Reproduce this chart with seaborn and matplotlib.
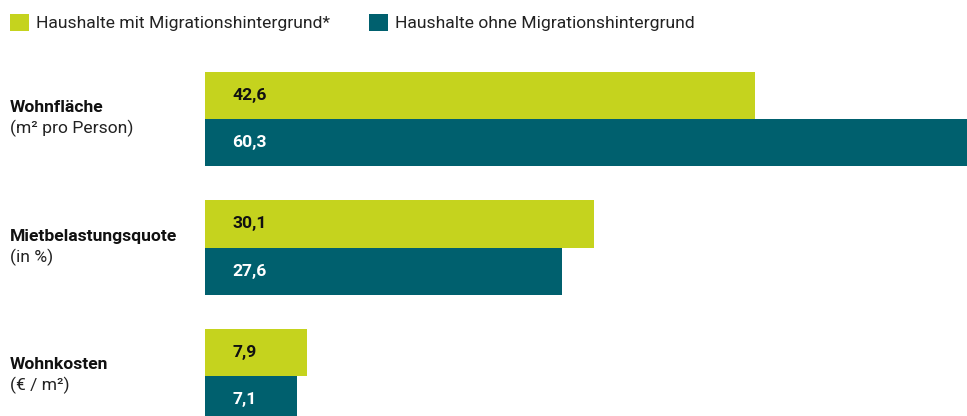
import pandas as pd
import matplotlib.pyplot as plt
import seaborn as sns

# ── Data ──────────────────────────────────────────────────────────────────────
categories = ["Wohnfläche", "Mietbelastungsquote", "Wohnkosten"]
units = ["(m² pro Person)", "(in %)", "(€ / m²)"]
groups = ["Haushalte mit Migrationshintergrund*", "Haushalte ohne Migrationshintergrund"]
with_migration = [42.6, 30.1, 7.9]
without_migration = [60.3, 27.6, 7.1]

LIME = "#C5D31E"
TEAL = "#00606E"
FS = 12.6

df = pd.DataFrame({
    "category": categories * 2,
    "value": with_migration + without_migration,
    "group": [groups[0]] * 3 + [groups[1]] * 3,
})

sns.set_theme(style="white")
plt.rcParams['font.family'] = ['Roboto', 'DejaVu Sans']

fig = plt.figure(figsize=(9.67, 4.16), dpi=100)
W, H = 967, 416
# axes spans from x=205px to the right edge, y=50px to the bottom edge
ax = fig.add_axes([205 / W, 0, 1 - 205 / W, (H - 50) / H])

sns.barplot(data=df, x="value", y="category", hue="group", hue_order=groups,
            palette=[LIME, TEAL], orient="h", width=0.732, saturation=1,
            linewidth=0, ax=ax, legend=True)

px_per_unit = 128.5
ax.set_xlim(0, 762 / 12.92)
ax.set_ylim((416 - 119) / px_per_unit, (50 - 119) / px_per_unit)
ax.set_xlabel("")
ax.set_ylabel("")
ax.set_xticks([])
ax.set_yticks([])
sns.despine(ax=ax, left=True, bottom=True)

# value labels, left aligned inside bars
for container, col in zip(ax.containers, ["#111111", "white"]):
    for bar in container:
        val = bar.get_width()
        ax.annotate(f"{val:.1f}".replace(".", ","),
                    xy=(0, bar.get_y() + bar.get_height() / 2),
                    xytext=(19.5, 0), textcoords="offset points",
                    ha="left", va="center", fontsize=FS,
                    fontweight="bold", color=col)

# category labels
for i, (cat, unit) in enumerate(zip(categories, units)):
    ax.annotate(cat, xy=(0, i), xycoords=("figure pixels", "data"),
                xytext=(10 * 0.72, 8), textcoords="offset points",
                ha="left", va="center", fontsize=FS, fontweight="bold",
                color="#111111", annotation_clip=False)
    ax.annotate(unit, xy=(0, i), xycoords=("figure pixels", "data"),
                xytext=(10 * 0.72, -7), textcoords="offset points",
                ha="left", va="center", fontsize=FS,
                color="#222222", annotation_clip=False)

# legend
sns.move_legend(ax, "upper left", bbox_to_anchor=(-0.004, 1.0),
                bbox_transform=fig.transFigure, ncol=2, frameon=False,
                title=None, fontsize=FS, handlelength=1.1, handleheight=1.1,
                handletextpad=0.4, columnspacing=2.2, borderaxespad=0.4,
                labelcolor="#222222")

fig.savefig("out.png", dpi=100)
